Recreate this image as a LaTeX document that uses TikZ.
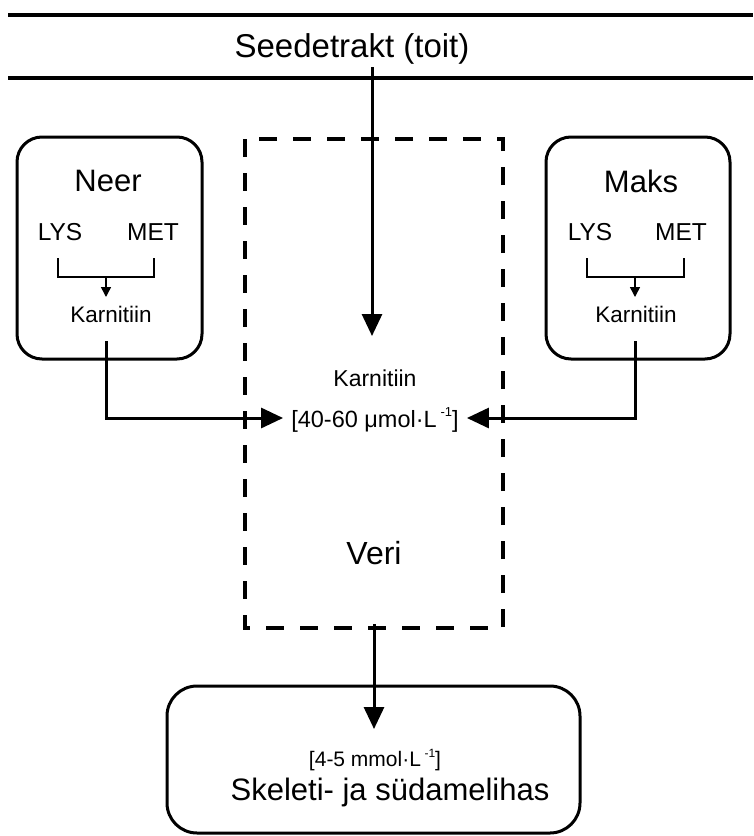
\documentclass[tikz,border=0pt]{standalone}
\usepackage{fontspec}
\setmainfont{Liberation Sans}
\usetikzlibrary{arrows.meta}
\begin{document}
\begin{tikzpicture}[x=1pt,y=-1pt,
  organ/.style={draw,line width=3pt,rounded corners=25pt},
  flow/.style={line width=3pt,-{Triangle[length=22pt,width=20pt]}},
  small/.style={line width=1.5pt},
  smallarr/.style={line width=1.5pt,-{Triangle[length=10pt,width=10pt]}},
  txt/.style={inner sep=0pt,anchor=center}]
\useasboundingbox (0,0) rectangle (753,836);
% top lines
\coordinate (l1a) at (8,15); \coordinate (l1b) at (753,15);
\coordinate (l2a) at (8,78); \coordinate (l2b) at (753,78);
\draw[line width=3.5pt] (l1a) -- (l1b);
\draw[line width=3.5pt] (l2a) -- (l2b);
\node[txt,font=\fontsize{33}{36}\selectfont] (seed) at (352,49) {Seedetrakt (toit)};
% dashed blood box
\draw[line width=4pt,dash pattern=on 18pt off 16pt,dash phase=0pt] (245,139) rectangle (503,628);
% organ boxes
\draw[organ] (17,137) rectangle (202,359);
\draw[organ] (546,137) rectangle (730,359);
\draw[organ,rounded corners=30pt] (167,686) rectangle (580,833);
% Neer
\node[txt,font=\fontsize{31}{34}\selectfont] (neer) at (108,181) {Neer};
\node[txt,font=\fontsize{24.5}{28}\selectfont] (lys1) at (60,232) {LYS};
\node[txt,font=\fontsize{24.5}{28}\selectfont] (met1) at (153,232) {MET};
\node[txt,font=\fontsize{22.5}{26}\selectfont] (kar1) at (111,314) {Karnitiin};
\coordinate (b1l) at (58,258); \coordinate (b1r) at (154,258);
\coordinate (b1c) at (106,277);
\draw[small] (b1l) -- (58,277) -- (154,277) -- (b1r);
\draw[smallarr] (b1c) -- (106,297);
% Maks
\node[txt,font=\fontsize{31}{34}\selectfont] (maks) at (641,181) {Maks};
\node[txt,font=\fontsize{24.5}{28}\selectfont] (lys2) at (590,232) {LYS};
\node[txt,font=\fontsize{24.5}{28}\selectfont] (met2) at (681,232) {MET};
\node[txt,font=\fontsize{22.5}{26}\selectfont] (kar2) at (636,314) {Karnitiin};
\coordinate (b2l) at (587,258); \coordinate (b2r) at (684,258);
\coordinate (b2c) at (635,277);
\draw[small] (b2l) -- (587,277) -- (684,277) -- (b2r);
\draw[smallarr] (b2c) -- (635,297);
% middle
\node[txt,font=\fontsize{23}{26}\selectfont] (karm) at (375,378) {Karnitiin};
\node[txt,inner xsep=8pt,font=\fontsize{23.5}{26}\selectfont] (conc) at (375,420) {[40-60 μmol·L\,\raisebox{0.45em}{\fontsize{13}{14}\selectfont -1}]};
\node[txt,font=\fontsize{32}{35}\selectfont] (veri) at (374,553) {Veri};
% bottom
\node[txt,font=\fontsize{21}{24}\selectfont] (conc2) at (375,760) {[4-5 mmol·L\,\raisebox{0.45em}{\fontsize{12}{13}\selectfont -1}]};
\node[txt,font=\fontsize{31}{34}\selectfont] (skel) at (390,792) {Skeleti- ja südamelihas};
% flows
\coordinate (gutout) at (372,67);
\coordinate (vbottom) at (374,624);
\draw[flow] (gutout) -- (372,336);
\draw[flow] (106,341) -- (106,418) -- (conc.west |- 0,418);
\draw[flow] (635,341) -- (635,418) -- (conc.east |- 0,418);
\draw[flow] (vbottom) -- (374,729);
\end{tikzpicture}
\end{document}
